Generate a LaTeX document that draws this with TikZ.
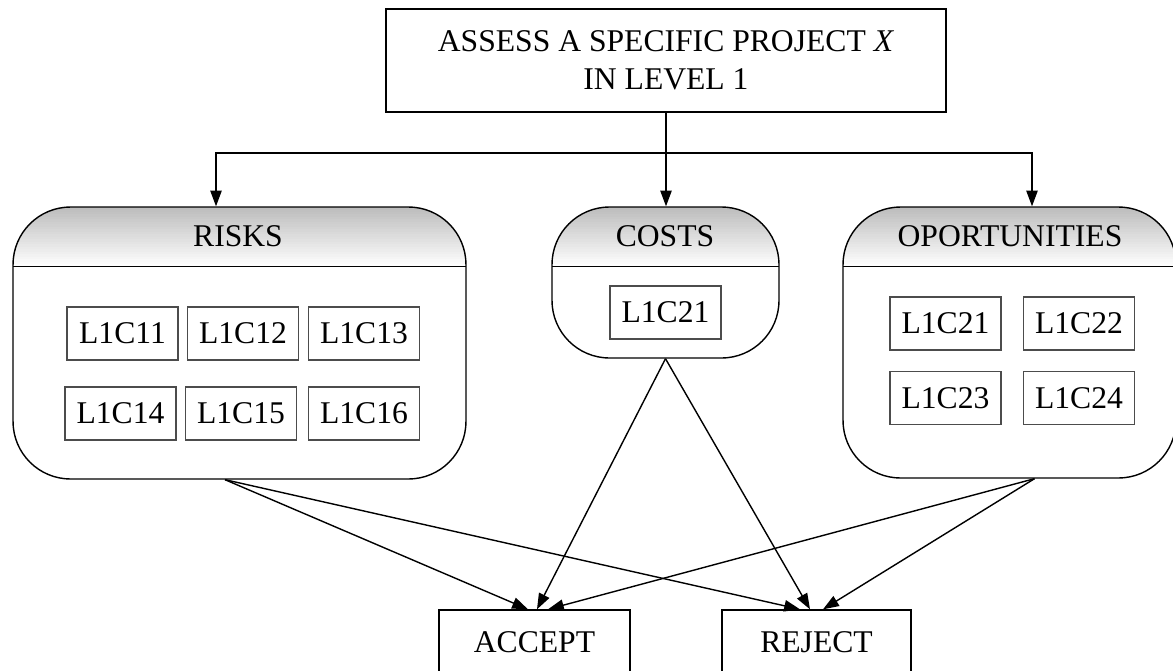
\documentclass[tikz,border=0pt]{standalone}
\usepackage{fontspec}
\setmainfont{Liberation Serif}
\usetikzlibrary{arrows.meta}

\tikzset{
  box/.style={draw, line width=0.8pt, align=center, inner sep=0pt},
  item/.style={draw=black!70, line width=1.1pt, minimum width=2.22cm, minimum height=1.06cm, inner sep=0pt},
  group/.style={draw, line width=0.8pt, rounded corners=1.15cm, inner sep=0pt,
    path picture={
      \foreach \i [evaluate=\i as \g using 26-1.1*\i] in {0,...,23}
        \fill[sharp corners, black!\g] ([yshift=-\i*0.0496cm]path picture bounding box.north west) rectangle ([yshift=-\i*0.0496cm-0.06cm]path picture bounding box.north east);
      \draw[sharp corners, line width=0.8pt] ([yshift=-1.19cm]path picture bounding box.north west) -- ([yshift=-1.19cm]path picture bounding box.north east);}},
  arr/.style={-{Triangle[length=9pt,width=6.5pt]}, line width=0.8pt}
}

\begin{document}
\begin{tikzpicture}[x=0.02cm, y=-0.02cm, font=\fontsize{18}{21.5}\selectfont]
\useasboundingbox (0,0) rectangle (1173,670);

\node[box, minimum width=11.2cm, minimum height=2.06cm] (assess) at (666,60.5) {ASSESS A SPECIFIC PROJECT \textit{X}\\IN LEVEL 1};

% groups
\node[group, minimum width=9.06cm, minimum height=5.44cm] (risks) at (239.5,343) {};
\node[group, minimum width=4.54cm, minimum height=3.02cm] (costs) at (665.5,282.5) {};
\node[group, minimum width=6.66cm, minimum height=5.42cm] (oport) at (1009.5,342.5) {};
\node (risksT) at (238,236) {RISKS};
\node (costsT) at (665,236) {COSTS};
\node (oportT) at (1010,236) {OPORTUNITIES};

% criteria
\node[item] (r11) at (122.5,333.5) {L1C11};
\node[item] (r12) at (243,333.5) {L1C12};
\node[item] (r13) at (364,333.5) {L1C13};
\node[item] (r14) at (120.5,413.5) {L1C14};
\node[item] (r15) at (241,413.5) {L1C15};
\node[item] (r16) at (364,413.5) {L1C16};
\node[item] (c21) at (665.5,312.5) {L1C21};
\node[item] (o21) at (945.5,323.5) {L1C21};
\node[item] (o22) at (1079,323.5) {L1C22};
\node[item] (o23) at (945.5,398) {L1C23};
\node[item] (o24) at (1079,398) {L1C24};

\node[box, minimum width=3.82cm, minimum height=1.28cm] (accept) at (534.5,642) {ACCEPT};
\node[box, minimum width=3.78cm, minimum height=1.28cm] (reject) at (816.5,642) {REJECT};

\coordinate (split) at (666,153);
\draw[line width=0.8pt] (assess.south) -- (split);
\draw[arr] (split) -| ([xshift=-0.47cm]risks.north);
\draw[arr] (split) -- (split |- costs.north);
\draw[arr] (split) -| ([xshift=0.45cm]oport.north);

\draw[arr] ([xshift=-0.29cm]risks.south) -- ([xshift=-0.13cm]accept.north);
\draw[arr] ([xshift=-0.29cm]risks.south) -- ([xshift=-0.33cm]reject.north);
\draw[arr] (costs.south) -- ([xshift=0.05cm]accept.north);
\draw[arr] (costs.south) -- ([xshift=-0.13cm]reject.north);
\draw[arr] ([xshift=0.5cm]oport.south) -- ([xshift=0.27cm]accept.north);
\draw[arr] ([xshift=0.5cm]oport.south) -- ([xshift=0.13cm]reject.north);
\end{tikzpicture}
\end{document}
